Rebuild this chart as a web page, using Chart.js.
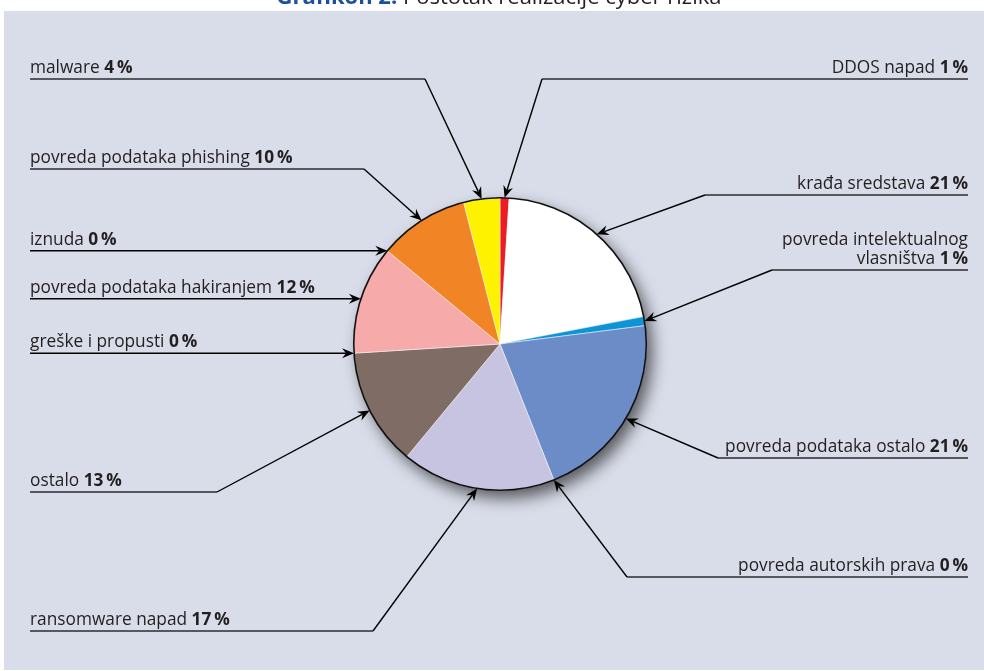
<!DOCTYPE html>
<html>
<head>
<meta charset="utf-8">
<script src="https://cdn.jsdelivr.net/npm/chart.js@4"></script>
<style>
html,body{margin:0;padding:0;background:#fff;}
#wrap{position:relative;width:984px;height:671px;}
</style>
</head>
<body>
<div id="wrap"><canvas id="riskChart" width="984" height="671"></canvas></div>
<script>
// podaci (redoslijed u smjeru kazaljke, od vrha)
const categories=['DDOS napad','krađa sredstava','povreda intelektualnog\nvlasništva','povreda podataka ostalo','povreda autorskih prava','ransomware napad','ostalo','greške i propusti','povreda podataka hakiranjem','iznuda','povreda podataka phishing','malware'];
const shares=[1,21,1,21,0,17,13,0,12,0,10,4];
const sliceColors=['#ed1c24','#ffffff','#0d94d6','#6b8cc6','#6b8cc6','#c7c4e1','#7f6c64','#7f6c64','#f6aaaa','#f6aaaa','#f18424','#fff200'];

// raspored oznaka: strana, y vodoravne crte, x loma (null = vodoravna strelica)
const calloutSide=['R','R','R','R','R','L','L','L','L','L','L','L'];
const calloutY=[79,195,270,458,577,631,492,null,null,null,169,79];
const calloutBend=[542,705,772,718,627,373,217,null,null,null,364,425];

const titleBold='Grafikon 2.';
const titleText=' Postotak realizacije cyber rizika';

const FONT='"Open Sans", "Noto Sans", sans-serif';
const TXT='#231f20';
const SQUEEZE=0.96;
const FS=18;

function drawArrow(ctx,x0,y0,x1,y1){
    const a=Math.atan2(y1-y0,x1-x0);
    const len=12, w=5, notch=8;
    ctx.beginPath();
    ctx.moveTo(x0,y0);
    ctx.lineTo(x1-Math.cos(a)*notch,y1-Math.sin(a)*notch);
    ctx.stroke();
    ctx.beginPath();
    ctx.moveTo(x1,y1);
    ctx.lineTo(x1-Math.cos(a)*len-Math.sin(a)*w,y1-Math.sin(a)*len+Math.cos(a)*w);
    ctx.lineTo(x1-Math.cos(a)*notch,y1-Math.sin(a)*notch);
    ctx.lineTo(x1-Math.cos(a)*len+Math.sin(a)*w,y1-Math.sin(a)*len-Math.cos(a)*w);
    ctx.closePath();
    ctx.fill();
}

// tekst sa suženjem (sličnije Myriadu)
function textW(ctx,s){return ctx.measureText(s).width*SQUEEZE;}
function drawText(ctx,s,x,y){
    ctx.save();
    ctx.translate(x,y);
    ctx.scale(SQUEEZE,1);
    ctx.fillText(s,0,0);
    ctx.restore();
}

function drawLabel(ctx,name,val,side,baseY,x0,x1){
    const lines=name.split('\n');
    const valStr=val+'\u2009%';
    const lh=19;
    ctx.fillStyle=TXT;
    ctx.textBaseline='alphabetic';
    ctx.textAlign='left';
    lines.forEach((ln,k)=>{
        const y=baseY-(lines.length-1-k)*lh;
        const last=k===lines.length-1;
        ctx.font=FS+'px '+FONT;
        const nw=textW(ctx,ln+(last?' ':''));
        ctx.font='bold '+FS+'px '+FONT;
        const vw=last?textW(ctx,valStr):0;
        let x=side==='L'?x0:x1-nw-vw;
        ctx.font=FS+'px '+FONT;
        drawText(ctx,ln+(last?' ':''),x,y);
        if(last){
            ctx.font='bold '+FS+'px '+FONT;
            drawText(ctx,valStr,x+nw,y);
        }
    });
}

const panelPlugin={
    id:'panel',
    beforeDraw(chart){
        const ctx=chart.ctx;
        ctx.save();
        ctx.fillStyle='#fff';
        ctx.fillRect(0,0,chart.width,chart.height);
        ctx.fillStyle='#d9dde9';
        ctx.fillRect(4,11,chart.width-4,659);
        // naslov (odrezan na vrhu)
        ctx.textBaseline='alphabetic';
        ctx.font='bold 22px '+FONT;
        const bw=ctx.measureText(titleBold).width;
        ctx.font='22px '+FONT;
        const tw=ctx.measureText(titleText).width;
        const tx=499-(bw+tw)/2;
        ctx.font='bold 22px '+FONT;
        ctx.fillStyle='#1d4f9c';
        ctx.fillText(titleBold,tx,4);
        ctx.font='22px '+FONT;
        ctx.fillStyle=TXT;
        ctx.fillText(titleText,tx+bw,4);
        ctx.restore();
    },
    beforeDatasetsDraw(chart){
        const arc=chart.getDatasetMeta(0).data[0];
        if(!arc) return;
        const ctx=chart.ctx;
        ctx.save();
        ctx.shadowColor='rgba(0,0,0,0.6)';
        ctx.shadowBlur=16;
        ctx.shadowOffsetX=6;
        ctx.shadowOffsetY=8;
        ctx.fillStyle='#d9dde9';
        ctx.beginPath();
        ctx.arc(arc.x,arc.y,arc.outerRadius,0,Math.PI*2);
        ctx.fill();
        ctx.restore();
    },
    afterDatasetsDraw(chart){
        const meta=chart.getDatasetMeta(0);
        const ctx=chart.ctx;
        const a0=meta.data[0];
        ctx.save();
        ctx.strokeStyle='#111';
        ctx.lineWidth=1.6;
        ctx.beginPath();
        ctx.arc(a0.x,a0.y,a0.outerRadius,0,Math.PI*2);
        ctx.stroke();

        meta.data.forEach((arc,i)=>{
            const mid=(arc.startAngle+arc.endAngle)/2;
            const tx=arc.x+Math.cos(mid)*arc.outerRadius;
            const ty=arc.y+Math.sin(mid)*arc.outerRadius;
            const side=calloutSide[i];
            const ly=calloutY[i]===null?ty:calloutY[i];
            const bx=calloutBend[i]===null?tx:calloutBend[i];
            const x0=30, x1=968;
            // vodoravna crta
            ctx.strokeStyle='#2b2b2f';
            ctx.lineWidth=1.6;
            ctx.fillStyle='#000';
            if(calloutBend[i]===null){
                ctx.strokeStyle='#000';
                drawArrow(ctx,x0,ly,tx,ty);
            }else{
                ctx.beginPath();
                if(side==='L'){ctx.moveTo(x0,ly);ctx.lineTo(bx,ly);}
                else{ctx.moveTo(bx,ly);ctx.lineTo(x1,ly);}
                ctx.stroke();
                ctx.strokeStyle='#000';
                ctx.lineWidth=1.4;
                drawArrow(ctx,bx,ly,tx,ty);
            }
            drawLabel(ctx,categories[i],shares[i],side,ly-6,x0,x1);
        });
        ctx.restore();
    }
};

new Chart(document.getElementById('riskChart'),{
    type:'pie',
    data:{
        labels:categories,
        datasets:[{
            data:shares,
            backgroundColor:sliceColors,
            borderColor:'#ffffff',
            borderWidth:c=>c.raw===0?1.5:0.5
        }]
    },
    options:{
        responsive:false,
        animation:false,
        layout:{padding:{left:353,right:337,top:197,bottom:180}},
        plugins:{legend:{display:false},tooltip:{enabled:false},title:{display:false}}
    },
    plugins:[panelPlugin]
});
</script>
</body>
</html>
